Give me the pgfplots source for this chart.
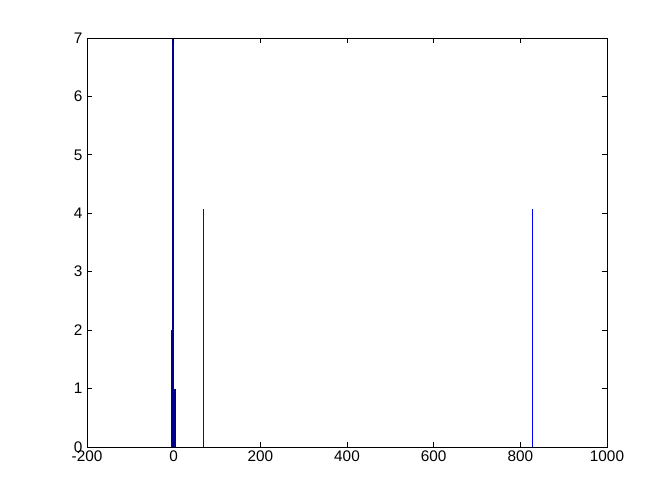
\documentclass[border=0pt]{standalone}
\usepackage{pgfplots}
\pgfplotsset{compat=1.18}
\usepackage{fontspec}
\setmainfont{Liberation Sans}
\definecolor{darkbar}{rgb}{0,0,0.5625}
\begin{document}
\begin{tikzpicture}
\useasboundingbox (0pt,0pt) rectangle (504pt,378pt);
\begin{axis}[at={(65.25pt,42.75pt)}, anchor=south west, scale only axis,
  width=390pt, height=306.75pt,
  xmin=-200, xmax=1000, ymin=0, ymax=7,
  xtick={-200,0,200,400,600,800,1000}, ytick={0,1,2,3,4,5,6,7},
  tick align=inside, major tick length=3.75pt,
  axis line style={black, line width=0.6pt}, tick style={black, line width=0.6pt},
  ticklabel style={font=\fontsize{11.5}{13}\selectfont},
  /pgf/number format/assume math mode=true,
  /pgf/number format/1000 sep={},
  xticklabel style={yshift=1pt},
  axis on top]
\addplot[ybar, bar width=3.4, bar shift=0, fill=darkbar, draw=none] coordinates {(-4.8,2)};
\addplot[ybar, bar width=4.8, bar shift=0, fill=darkbar, draw=none] coordinates {(-0.7,20)};
\addplot[ybar, bar width=3.2, bar shift=0, fill=darkbar, draw=none] coordinates {(3.1,1)};
\addplot[ycomb, color=blue, line width=0.75pt, mark=none] coordinates {(69,4.07) (827,4.07)};
\end{axis}
\end{tikzpicture}
\end{document}
